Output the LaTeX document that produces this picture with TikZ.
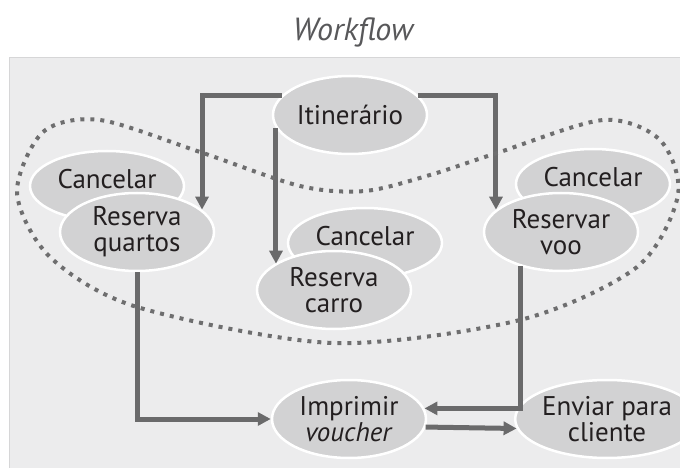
\documentclass[tikz,border=0pt]{standalone}
\usepackage{fontspec}
\setmainfont{PT Sans}
\usetikzlibrary{shapes.geometric,arrows.meta}

\definecolor{panelgray}{HTML}{ECECED}
\definecolor{panelline}{HTML}{D6D6D7}
\definecolor{ovalgray}{HTML}{D2D2D3}
\definecolor{arrowgray}{HTML}{6A6A6B}
\definecolor{dotgray}{HTML}{6E6E6F}
\definecolor{textdark}{HTML}{231F20}
\definecolor{titlegray}{HTML}{58585A}

\begin{document}
\begin{tikzpicture}[x=1pt,y=-1pt,
	task/.style={ellipse, fill=ovalgray, draw=white, line width=2.5pt,
		minimum width=154pt, minimum height=78pt, inner sep=0pt,
		align=center, text=textdark, font=\fontsize{27}{26}\selectfont},
	undo/.style={task, minimum height=70pt, text depth=14pt},
	flow/.style={arrowgray, line width=5pt, -{Triangle[length=13pt,width=13pt]}},
	scopeline/.style={dotgray, line width=4pt, dash pattern=on 4pt off 6pt}]
	
	\useasboundingbox (0,0) rectangle (680,470);
	
	% Titel
	\node[font=\fontsize{32}{34}\selectfont\itshape, text=titlegray] (title) at (353,32) {Workflow};
	
	% Hintergrund
	\fill[panelgray] (9,58) rectangle (682,468);
	\draw[panelline, line width=1pt] (682,58) -- (9,58) -- (9,468);
	
	% Aktivitaeten (Cancelar liegt jeweils dahinter)
	\node[task] (itin) at (350,115) {Itinerário};
	
	\node[undo] (cq) at (107,186) {Cancelar};
	\node[task] (rq) at (137,232) {Reserva\\quartos};
	
	\node[undo] (cc) at (365,243) {Cancelar};
	\node[task] (rc) at (334,290) {Reserva\\carro};
	
	\node[undo] (cv) at (593,184) {Cancelar};
	\node[task] (rv) at (561,232) {Reservar\\voo};
	
	\node[task] (im) at (349,419) {Imprimir\\\textit{voucher}};
	\node[task] (ec) at (607,419) {Enviar para\\cliente};
	
	% Kontrollfluss
	\draw[flow] (itin.164) -| (rq.19);
	\draw[flow] (itin.16) -| (rv.161);
	\draw[flow] (itin.190) -- (itin.190 |- rc.156);
	\draw[flow] (rq.south) |- (im.west);
	\draw[flow] (rv.220) |- (im.8);
	\draw[flow] (im.354) -- (ec.186);
	
	% Transaktionsgrenze
	\draw[scopeline] plot[smooth cycle] coordinates {(17,193) (43,132) (100,120) (200,152)
		(300,186) (365,191) (430,175) (497,153) (603,120) (660,140) (678,195) (637,267)
		(520,320) (333,343) (137,307) (50,257)};
	
\end{tikzpicture}
\end{document}
